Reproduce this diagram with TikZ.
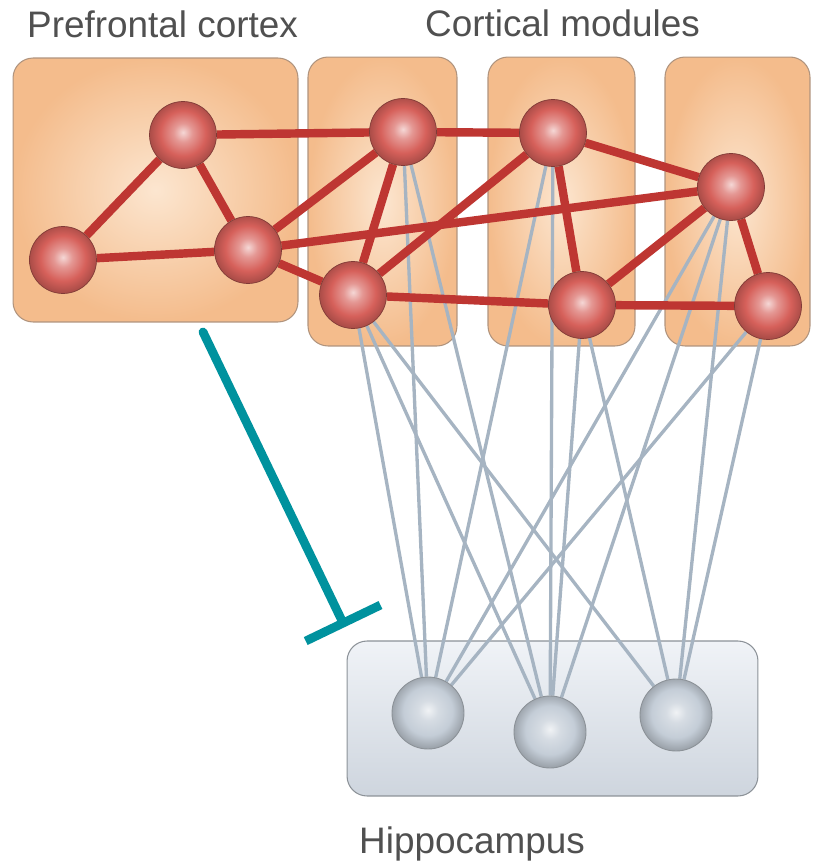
\documentclass[tikz,border=0pt]{standalone}
\usepackage{fontspec}
\setmainfont{Liberation Sans}
\usepackage{tikz}
\usepackage{xcolor}
\usetikzlibrary{positioning,shapes,arrows.meta}

\definecolor{nodered}{RGB}{214,96,90}
\definecolor{linkred}{RGB}{190,54,50}
\definecolor{boxorange}{RGB}{244,188,140}
\definecolor{boxlight}{RGB}{252,230,208}
\definecolor{boxedge}{RGB}{176,148,126}
\definecolor{wiregray}{RGB}{166,180,194}
\definecolor{inhibteal}{RGB}{0,146,158}
\definecolor{hipfill}{RGB}{240,243,247}
\definecolor{hipdark}{RGB}{206,213,222}
\definecolor{hipedge}{RGB}{140,146,152}
\definecolor{hipball}{RGB}{196,205,215}
\definecolor{labelgray}{RGB}{80,80,80}

\pgfdeclareradialshading{redsphere}{\pgfpoint{0bp}{2bp}}{color(0bp)=(nodered!25!white); color(7bp)=(nodered!65!white); color(17bp)=(nodered); color(25bp)=(nodered!80!black); color(50bp)=(nodered!80!black)}
\pgfdeclareradialshading{graysphere}{\pgfpoint{0bp}{2bp}}{color(0bp)=(hipball!25!white); color(7bp)=(hipball!70!white); color(17bp)=(hipball); color(25bp)=(hipball!80!black); color(50bp)=(hipball!80!black)}

\pgfdeclarelayer{back}
\pgfdeclarelayer{wires}
\pgfsetlayers{back,wires,main}

\begin{document}
\begin{tikzpicture}[x=0.02cm, y=0.02cm]
\tikzstyle{every node}+=[inner sep=0pt]
\tikzstyle{neuron}=[circle, minimum size=1.34cm, shading=redsphere, draw=nodered!60!black, line width=0.4pt]
\tikzstyle{hipcell}=[circle, minimum size=1.44cm, shading=graysphere, draw=hipedge, line width=0.5pt]
\tikzstyle{cortexbox}=[rectangle, rounded corners=0.4cm, draw=boxedge, line width=0.6pt, inner color=boxlight, outer color=boxorange]
\tikzstyle{hipbox}=[rectangle, rounded corners=0.4cm, draw=hipedge, line width=0.6pt, top color=hipfill, bottom color=hipdark]
\tikzstyle{redlink}=[linkred, line width=4.8pt]
\tikzstyle{graylink}=[wiregray, line width=1.9pt]
\tikzstyle{inhib}=[inhibteal, line width=5pt, line cap=round, -{Bar[width=1.66cm]}]
\tikzstyle{titletext}=[font=\fontsize{21}{25}\selectfont, text=labelgray, anchor=base]
\useasboundingbox (0,0) rectangle (812,-865);

\node [titletext] (pfctitle) at (162.5,-38) {Prefrontal cortex};
\node [titletext] (modtitle) at (562.5,-37) {Cortical modules};
\node [titletext] (hiptitle) at (472,-853) {Hippocampus};

\begin{pgfonlayer}{back}
\node [cortexbox, minimum width=5.7cm, minimum height=5.28cm] (pfcbox) at (155.5,-190) {};
\node [cortexbox, minimum width=2.98cm, minimum height=5.78cm] (modboxA) at (382.5,-201.5) {};
\node [cortexbox, minimum width=2.94cm, minimum height=5.78cm] (modboxB) at (561.5,-201.5) {};
\node [cortexbox, minimum width=2.9cm, minimum height=5.78cm] (modboxC) at (737.5,-201.5) {};
\node [hipbox, minimum width=8.22cm, minimum height=3.1cm] (hipbox) at (552.5,-718.5) {};
\end{pgfonlayer}

\node [neuron] (p1) at (183,-135) {};
\node [neuron] (p2) at (63,-260) {};
\node [neuron] (p3) at (248,-250) {};
\node [neuron] (c1) at (403,-132) {};
\node [neuron] (c2) at (353,-295) {};
\node [neuron] (c3) at (553,-133) {};
\node [neuron] (c4) at (582,-305) {};
\node [neuron] (c5) at (731,-187) {};
\node [neuron] (c6) at (768,-306) {};
\node [hipcell] (h1) at (428,-713) {};
\node [hipcell] (h2) at (550,-732) {};
\node [hipcell] (h3) at (676,-715) {};

\begin{pgfonlayer}{wires}
\draw [graylink] (h1) -- (c2);
\draw [graylink] (h1) -- (c1);
\draw [graylink] (h1) -- (c3);
\draw [graylink] (h1) -- (c5);
\draw [graylink] (h1) -- (c6);
\draw [graylink] (h2) -- (c2);
\draw [graylink] (h2) -- (c1);
\draw [graylink] (h2) -- (c3);
\draw [graylink] (h2) -- (c4);
\draw [graylink] (h2) -- (c5);
\draw [graylink] (h3) -- (c2);
\draw [graylink] (h3) -- (c4);
\draw [graylink] (h3) -- (c5);
\draw [graylink] (h3) -- (c6);
\draw [redlink] (p1) -- (p2);
\draw [redlink] (p1) -- (p3);
\draw [redlink] (p2) -- (p3);
\draw [redlink] (p1) -- (c1);
\draw [redlink] (p3) -- (c1);
\draw [redlink] (p3) -- (c2);
\draw [redlink] (p3) -- (c5);
\draw [redlink] (c1) -- (c2);
\draw [redlink] (c2) -- (c3);
\draw [redlink] (c1) -- (c3);
\draw [redlink] (c3) -- (c5);
\draw [redlink] (c3) -- (c4);
\draw [redlink] (c4) -- (c5);
\draw [redlink] (c5) -- (c6);
\draw [redlink] (c2) -- (c4);
\draw [redlink] (c4) -- (c6);
\end{pgfonlayer}

\coordinate (inhibfrom) at (203,-332);
\coordinate (inhibto) at (345,-627);
\draw [inhib] (inhibfrom) -- (inhibto);
\end{tikzpicture}
\end{document}
